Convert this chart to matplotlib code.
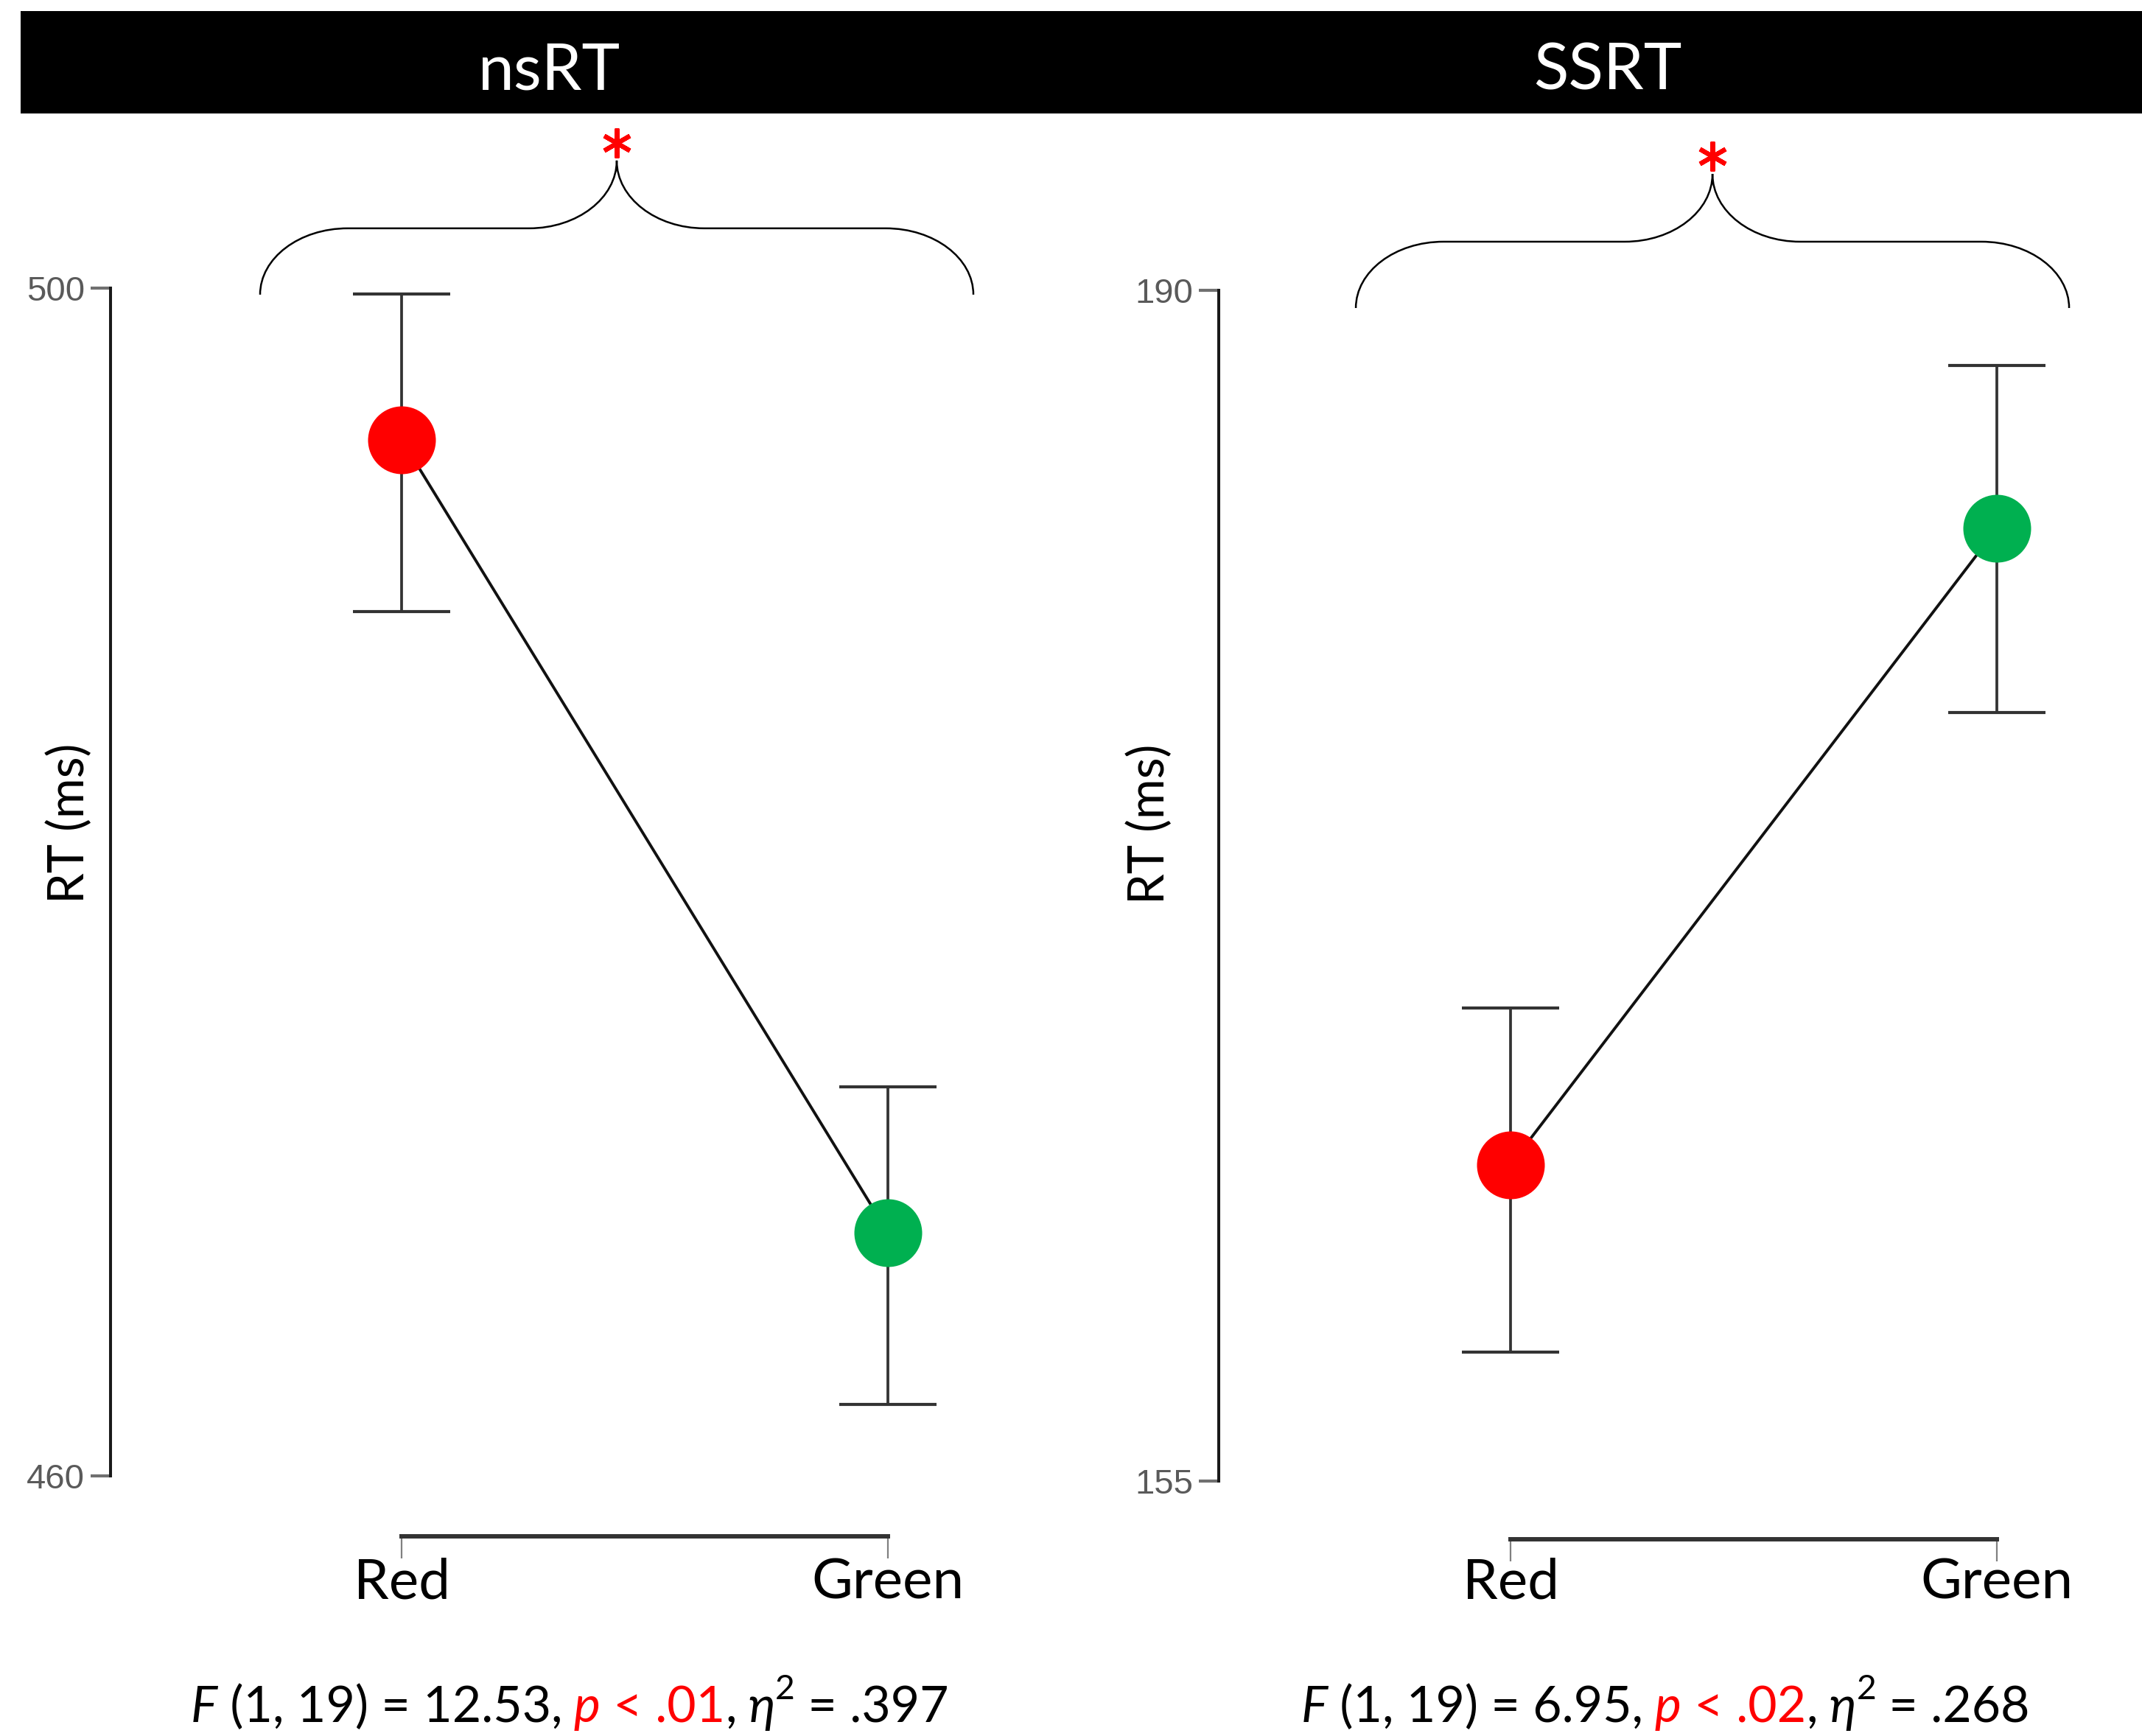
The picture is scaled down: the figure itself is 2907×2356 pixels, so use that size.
import matplotlib
matplotlib.use('Agg')
import matplotlib.pyplot as plt
from matplotlib.path import Path
from matplotlib.patches import PathPatch, Rectangle
from matplotlib.lines import Line2D
import matplotlib.transforms as mtransforms

# ---------------- data ----------------
categories = ['Red', 'Green']
point_colors = ['#FF0000', '#00B050']

nsrt_mean = [494.9, 468.2]
nsrt_err_low = [5.8, 5.8]
nsrt_err_high = [4.9, 4.9]
nsrt_ticks = [460, 500]

ssrt_mean = [164.3, 183.0]
ssrt_err_low = [5.5, 5.4]
ssrt_err_high = [4.6, 4.8]
ssrt_ticks = [155, 190]

panel_titles = ['nsRT', 'SSRT']
ylabel_text = 'RT (ms)'
stat_df = '(1, 19)'
stat_F = ['12.53', '6.95']
stat_p = ['.01', '.02']
stat_eta = ['.397', '.268']

# ---------------- layout ----------------
W, H, DPI = 2907, 2356, 100
plt.rcParams['font.family'] = ['Lato', 'DejaVu Sans']

fig = plt.figure(figsize=(W / DPI, H / DPI), dpi=DPI)
fig.patch.set_facecolor('white')


def rect(left, top, width, height):
    return [left / W, 1 - (top + height) / H, width / W, height / H]


def px2pt(v):
    return v * 72.0 / DPI


panels = [
    dict(rect=(150, 391, 1253, 1612), xlim=(-0.5985, 1.3), ylim=(460, 500),
         mean=nsrt_mean, lo=nsrt_err_low, hi=nsrt_err_high, ticks=nsrt_ticks,
         out=82, xpad=-1, lab=(-0.0439, 0.5496), brace=(0.4424, 499.78),
         title_x=745, stat_x=773),
    dict(rect=(1654, 394, 1253, 1616), xlim=(-0.6, 1.298), ylim=(155, 190),
         mean=ssrt_mean, lo=ssrt_err_low, hi=ssrt_err_high, ticks=ssrt_ticks,
         out=79, xpad=-4, lab=(-0.0742, 0.552), brace=(0.415, 189.48),
         title_x=2182, stat_x=2260),
]

# title bar
fig.add_artist(Rectangle((28 / W, 1 - 154 / H), (W - 28) / W, 139 / H,
                         transform=fig.transFigure, facecolor='black',
                         edgecolor='none', zorder=0))


def brace_path(hw=484, h1=90, h2=92, f1=119, fin=119, k=0.5523):
    x0 = -hw
    v = [(x0, 0), (x0, k * h1), (x0 + f1 - k * f1, h1), (x0 + f1, h1),
         (-fin, h1),
         (-fin + k * fin, h1), (0, h1 + h2 - k * h2), (0, h1 + h2),
         (0, h1 + h2 - k * h2), (fin - k * fin, h1), (fin, h1),
         (hw - f1, h1),
         (hw - f1 + k * f1, h1), (hw, k * h1), (hw, 0)]
    c = [Path.MOVETO, Path.CURVE4, Path.CURVE4, Path.CURVE4,
         Path.LINETO,
         Path.CURVE4, Path.CURVE4, Path.CURVE4,
         Path.CURVE4, Path.CURVE4, Path.CURVE4,
         Path.LINETO,
         Path.CURVE4, Path.CURVE4, Path.CURVE4]
    v = [(a / DPI, b / DPI) for a, b in v]
    return Path(v, c)


stat_items = []
for i, p in enumerate(panels):
    ax = fig.add_axes(rect(*p['rect']))
    ax.set_facecolor('none')
    x = list(range(len(categories)))
    for j in x:
        ax.errorbar([j], [p['mean'][j]], yerr=[[p['lo'][j]], [p['hi'][j]]],
                    fmt='none', ecolor='#333333', elinewidth=2.7,
                    capsize=px2pt(66), capthick=3.0, zorder=2, clip_on=False)
    ax.plot(x, p['mean'], color='#111111', lw=2.8, zorder=3, clip_on=False)
    for j in x:
        ax.plot([j], [p['mean'][j]], 'o', ms=px2pt(92), color=point_colors[j],
                mec='none', zorder=4, clip_on=False)
    ax.set_xlim(*p['xlim'])
    ax.set_ylim(*p['ylim'])

    for s in ('top', 'right'):
        ax.spines[s].set_visible(False)
    ax.spines['left'].set_linewidth(2.9)
    ax.spines['left'].set_color('#1a1a1a')
    ax.spines['left'].set_bounds(*p['ylim'])
    ax.spines['bottom'].set_position(('outward', px2pt(p['out'])))
    ax.spines['bottom'].set_bounds(0, 1)
    ax.spines['bottom'].set_linewidth(4.3)
    ax.spines['bottom'].set_color('#333333')

    ax.set_yticks(p['ticks'])
    ax.set_yticklabels([str(t) for t in p['ticks']])
    ax.tick_params(axis='y', length=px2pt(27), width=3.0, color='#707070',
                   pad=px2pt(8), labelsize=34, labelcolor='#5a5a5a')
    for lbl in ax.get_yticklabels():
        lbl.set_fontfamily(['Liberation Sans'])
    ax.set_xticks(x)
    ax.set_xticklabels(categories)
    ax.tick_params(axis='x', length=px2pt(30), width=1.6, color='#808080',
                   pad=p['xpad'], labelsize=55, labelcolor='black')

    ax.set_ylabel(ylabel_text, fontsize=48, color='black')
    ax.yaxis.label.set_va('center')
    ax.yaxis.set_label_coords(*p['lab'])

    # title
    fig.text(p['title_x'] / W, 1 - 121 / H, panel_titles[i], color='white',
             fontsize=63, ha='center', va='baseline')

    # significance brace and asterisk
    bx, by = p['brace']
    trans = fig.dpi_scale_trans + mtransforms.ScaledTranslation(bx, by, ax.transData)
    fig.add_artist(PathPatch(brace_path(), transform=trans, facecolor='none',
                             edgecolor='black', lw=1.8, clip_on=False))
    fig.add_artist(Line2D([0], [(182 + 24) / DPI], transform=trans,
                          marker=(6, 2, 0), ms=px2pt(40), mew=4.4,
                          mec='#FF0000', linestyle='none', clip_on=False))

    # statistics line
    size = 49
    base = 19 / H
    t0 = fig.text(0, base, 'F', style='italic', fontsize=size,
                  va='baseline', ha='left', color='black')
    prev = t0
    for s, c, st in [(f' {stat_df} = {stat_F[i]},', 'black', 'normal'),
                     (' p', '#FF0000', 'italic'),
                     (f' < {stat_p[i]}', '#FF0000', 'normal'),
                     (',', 'black', 'normal'),
                     (' η', 'black', 'italic')]:
        prev = ax.annotate(s, xy=(1, 0), xycoords=prev, va='bottom', ha='left',
                           color=c, style=st, fontsize=size)
    eta_t = prev
    sup = ax.annotate('2', xy=(1, 0), xycoords=eta_t, xytext=(0, 22 + 0.19 * size),
                      textcoords='offset points', va='baseline', ha='left',
                      fontsize=0.68 * size, color='black')
    last = ax.annotate(f' = {stat_eta[i]}', xy=(1, 0), xycoords=(sup, eta_t),
                       va='bottom', ha='left', fontsize=size, color='black')
    stat_items.append((t0, last, p['stat_x']))

fig.canvas.draw()
r = fig.canvas.get_renderer()
for t0, last, cx in stat_items:
    x0 = t0.get_window_extent(r).x0
    x1 = last.get_window_extent(r).x1
    wdt = x1 - x0
    t0.set_x((cx - wdt / 2) / W)

fig.savefig('out.png', dpi=DPI, facecolor='white')
